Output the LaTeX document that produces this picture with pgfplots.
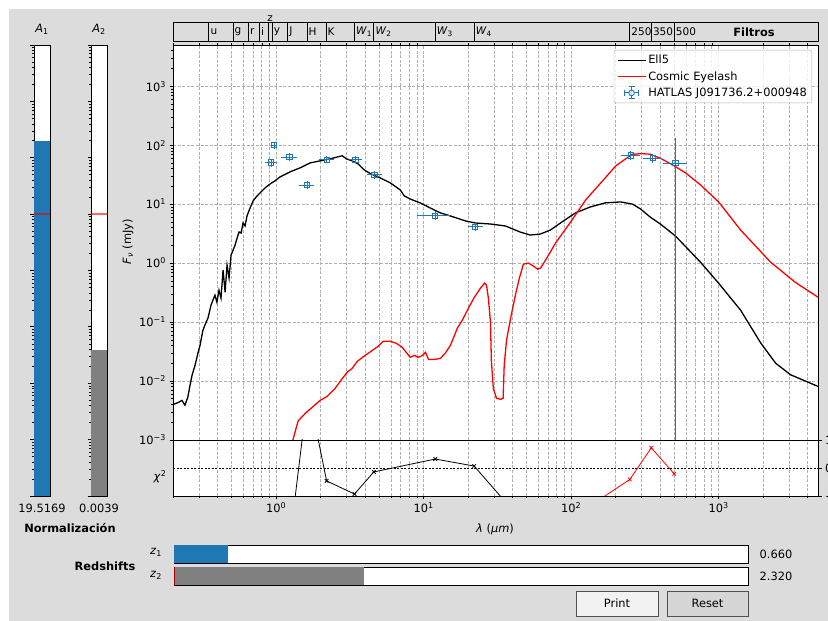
\documentclass[border=0pt]{standalone}
\usepackage{fontspec}
\setmainfont{DejaVu Sans}
\usepackage{pgfplots}
\pgfplotsset{compat=1.18}
\definecolor{c0}{RGB}{31,119,180}
\definecolor{bg}{RGB}{220,220,220}
\definecolor{gridc}{RGB}{176,176,176}
\definecolor{fgray}{RGB}{128,128,128}
\newcommand\fs{\fontsize{11.4pt}{13.5pt}\selectfont}
\pgfplotsset{
  mplbase/.style={scale only axis, anchor=south west,
    axis line style={line width=0.8pt},
    tick align=outside, major tick length=3.5pt, minor tick length=2pt,
    tick style={black, line width=0.8pt}, minor tick style={black, line width=0.6pt},
    tick label style={font=\fs},
    axis background/.style={fill=white}},
  mplgrid/.style={grid style={gridc, dash pattern=on 3pt off 1.6pt, line width=0.7pt},
    minor grid style={gridc, dash pattern=on 3pt off 1.6pt, line width=0.7pt}},
  sliderax/.style={scale only axis, anchor=south west, width=574pt, height=18pt,
    xmin=0, xmax=7, ymin=0, ymax=1, ticks=none, axis line style={line width=0.8pt},
    axis background/.style={fill=white}}
}
\tikzset{flab/.style={anchor=west, font=\fontsize{10.5pt}{12pt}\selectfont, inner sep=1.5pt}}
\begin{document}
\begin{tikzpicture}[x=1pt,y=1pt,font=\fs]
\useasboundingbox (0,0) rectangle (828,621);
\fill[white] (0,0) rectangle (828,621);
\fill[bg] (9,0) rectangle (828,612);

% ---------- main SED axis ----------
\begin{axis}[mplbase, mplgrid, at={(173pt,181pt)}, width=645pt, height=395pt,
  xmode=log, ymode=log, xmin=0.2, xmax=4720, ymin=1e-3, ymax=5000,
  xtick={1,10,100,1000},
  minor xtick={0.2,0.3,0.4,0.5,0.6,0.7,0.8,0.9,2,3,4,5,6,7,8,9,20,30,40,50,60,70,80,90,200,300,400,500,600,700,800,900,2000,3000,4000},
  xmajorgrids, xminorgrids, ymajorgrids,
  xticklabels={}, xmajorticks=false, xminorticks=false,
  ytick={1e-3,1e-2,1e-1,1,10,100,1000},
  yticklabels={10\textsuperscript{−3},10\textsuperscript{−2},10\textsuperscript{−1},10\textsuperscript{0},10\textsuperscript{1},10\textsuperscript{2},10\textsuperscript{3}},
  minor ytick={2e-3,3e-3,4e-3,5e-3,6e-3,7e-3,8e-3,9e-3,0.02,0.03,0.04,0.05,0.06,0.07,0.08,0.09,0.2,0.3,0.4,0.5,0.6,0.7,0.8,0.9,2,3,4,5,6,7,8,9,20,30,40,50,60,70,80,90,200,300,400,500,600,700,800,900,2000,3000,4000},
  ytick pos=left,
  legend cell align=left,
  legend style={at={(1,1)}, anchor=north east, xshift=-6pt, yshift=-5pt,
    draw=gridc, rounded corners=2pt, fill=white, fill opacity=0.8, text opacity=1,
    font=\fs, row sep=2.2pt, inner sep=3pt},
  clip marker paths=true]
\addplot[black, line width=1.3pt, legend image code/.code={\draw[black, line width=1.3pt] (0pt,0pt) -- (28pt,0pt);}] coordinates {
(0.200,0.0040)(0.216,0.0043)(0.230,0.0047)(0.241,0.0039)(0.252,0.0053)(0.261,0.0085)(0.269,0.0124)(0.282,0.0184)(0.296,0.0306)(0.305,0.0403)(0.319,0.0726)(0.335,0.099)(0.345,0.116)(0.362,0.193)(0.373,0.235)(0.385,0.286)(0.397,0.217)(0.410,0.347)(0.423,0.254)(0.437,0.760)(0.451,0.321)(0.465,0.925)(0.480,0.556)(0.495,1.37)(0.511,1.66)(0.527,2.02)(0.544,2.66)(0.561,3.37)(0.579,3.24)(0.597,4.79)(0.616,4.26)(0.635,6.3)(0.666,8.6)(0.698,11.3)(0.732,13.2)(0.779,15.5)(0.842,18.9)(0.911,22.0)(0.984,24.9)(1.064,29.0)(1.245,35.3)(1.456,41.3)(1.70,50.0)(1.99,54.2)(2.33,58.7)(2.63,63.6)(2.81,66.1)(2.99,58.7)(3.28,54.2)(3.60,48.0)(3.96,38.0)(4.35,33.0)(5.08,27.9)(5.95,22.9)(6.95,17.4)(7.39,13.8)(8.12,12.2)(9.49,10.5)(11.1,8.6)(13.0,7.1)(15.2,6.3)(19.2,5.2)(22.4,4.79)(28.5,4.60)(35.9,4.26)(45.1,3.37)(52.8,2.99)(61.8,3.11)(72.4,3.64)(84.7,4.79)(107,7.1)(135,8.96)(170,10.5)(217,10.9)(261,10.0)(295,8.3)(345,6.0)(403,4.6)(510,2.88)(753,1.04)(1000,0.457)(1410,0.159)(1936,0.0437)(2440,0.0200)(3070,0.0128)(4720,0.0081)};
\addlegendentry{Ell5}
\addplot[red, line width=1.3pt, legend image code/.code={\draw[red, line width=1.3pt] (0pt,0pt) -- (28pt,0pt);}] coordinates {
(1.25,0.0007)(1.41,0.0021)(1.57,0.0028)(1.76,0.0036)(1.99,0.0047)(2.22,0.0055)(2.51,0.0075)(2.81,0.011)(3.03,0.0141)(3.28,0.0164)(3.55,0.0216)(4.02,0.0272)(4.49,0.0331)(4.93,0.0389)(5.33,0.0472)(5.95,0.0472)(6.53,0.0436)(7.17,0.0373)(7.63,0.0306)(8.12,0.0252)(8.66,0.0272)(9.22,0.0252)(9.82,0.0272)(10.3,0.0306)(10.8,0.0232)(11.8,0.0232)(13.0,0.0242)(14.0,0.0295)(15.2,0.0403)(16.2,0.0595)(16.9,0.0784)(18.3,0.107)(20.1,0.171)(22.1,0.264)(24.3,0.376)(25.9,0.457)(26.7,0.422)(27.5,0.254)(28.4,0.099)(28.8,0.0226)(29.7,0.0075)(31.2,0.0051)(33.3,0.0049)(34.6,0.0051)(35.2,0.0184)(36.5,0.049)(38.9,0.116)(41.9,0.286)(44.6,0.556)(47.5,0.96)(51.4,1.0)(55.6,0.89)(59.3,0.79)(62.0,0.82)(67.1,1.12)(78.5,2.19)(99.3,4.98)(125.6,11.8)(158.9,22.9)(201,44.6)(233,58)(260,70)(300,72)(345,70)(403,60)(488,46.3)(597,33.9)(753,21.3)(1000,10.9)(1410,3.64)(2250,1.04)(3300,0.475)(4720,0.264)};
\addlegendentry{Cosmic Eyelash}
\addplot[c0, only marks, mark=square, mark size=2.6pt, mark options={c0, fill=white, line width=0.9pt},
  legend image code/.code={\draw[c0,line width=0.9pt] (7pt,0pt)--(21pt,0pt) (7pt,-3pt)--(7pt,3pt) (21pt,-3pt)--(21pt,3pt) (14pt,-6pt)--(14pt,6pt) (11pt,-6pt)--(17pt,-6pt) (11pt,6pt)--(17pt,6pt); \draw[c0, fill=white, line width=0.9pt] (11.4pt,-2.6pt) rectangle (16.6pt,2.6pt);},
  error bars/.cd, x dir=both, x explicit, y dir=both, y explicit,
  error bar style={draw=c0, color=c0, line width=1pt}, error mark options={draw=c0, color=c0, line width=1pt, mark size=3pt}]
  table[x=x, y=y, x error=ex, y error plus=eyp, y error minus=eym] {
x ex y eyp eym
0.925 0.04 50.8 2 2
0.97 0.005 100 2 2
1.23 0.09 63 2 2
1.62 0.11 21 1 1
2.21 0.15 57 2 2
3.45 0.2 57 2 2
4.65 0.3 31.4 1 1
12.0 2.5 6.4 0.3 0.3
22.4 1.6 4.1 0.2 0.2
253 25 66.8 3 3
357 35 60 3 3
510 70 49.6 68 49.5999
};
\addlegendentry{HATLAS J091736.2+000948}
\end{axis}

% ---------- chi2 axis ----------
\begin{axis}[mplbase, mplgrid, at={(173pt,125pt)}, width=645pt, height=56pt,
  xmode=log, xmin=0.2, xmax=4720, ymin=-1, ymax=1,
  xtick={1,10,100,1000},
  minor xtick={0.2,0.3,0.4,0.5,0.6,0.7,0.8,0.9,2,3,4,5,6,7,8,9,20,30,40,50,60,70,80,90,200,300,400,500,600,700,800,900,2000,3000,4000},
  xmajorgrids, xminorgrids,
  xticklabels={10\textsuperscript{0},10\textsuperscript{1},10\textsuperscript{2},10\textsuperscript{3}},
  xtick pos=bottom,
  ytick={-1,0,1}, yticklabels={−10\textsuperscript{0},0,10\textsuperscript{0}},
  ytick pos=right, yticklabel pos=right,
  clip marker paths=true]
\addplot[black, line width=0.7pt, dash pattern=on 2pt off 1.5pt] coordinates {(0.2,0)(4720,0)};
\addplot[black, line width=0.8pt, mark=x, mark size=2.5pt] coordinates {
(1.25,-2.43)(1.65,2.78)(2.2,-0.46)(3.4,-0.93)(4.6,-0.14)(12,0.32)(22,0.07)(250,-6.3)(350,-8)(500,-8)};
\addplot[red, line width=0.8pt, mark=x, mark size=2.5pt] coordinates {
(22,-4.1)(250,-0.41)(350,0.72)(500,-0.21)};
\end{axis}

% ---------- filter bar ----------
\begin{axis}[scale only axis, anchor=south west, at={(173pt,580pt)}, width=645pt, height=19pt,
  xmode=log, xmin=0.2, xmax=4720, ymin=0, ymax=1, ticks=none,
  axis line style={line width=0.8pt}, axis background/.style={fill=bg}, clip=false]
\addplot[black, line width=0.8pt, ycomb, no marks] coordinates {
(0.35,1)(0.51,1)(0.65,1)(0.77,1)(0.88,1)(0.94,1)(1.2,1)(1.62,1)(2.18,1)(3.4,1)(4.6,1)(12,1)(22,1)(250,1)(350,1)(500,1)};
\node[flab] at (axis cs:0.35,0.5) {u};
\node[flab] at (axis cs:0.51,0.5) {g};
\node[flab] at (axis cs:0.65,0.5) {r};
\node[flab] at (axis cs:0.77,0.5) {i};
\node[flab] at (axis cs:0.94,0.5) {y};
\node[flab] at (axis cs:1.2,0.5) {J};
\node[flab] at (axis cs:1.62,0.5) {H};
\node[flab] at (axis cs:2.18,0.5) {K};
\node[flab] at (axis cs:3.4,0.5) {\textit{W}\textsubscript{1}};
\node[flab] at (axis cs:4.6,0.5) {\textit{W}\textsubscript{2}};
\node[flab] at (axis cs:12,0.5) {\textit{W}\textsubscript{3}};
\node[flab] at (axis cs:22,0.5) {\textit{W}\textsubscript{4}};
\node[flab] at (axis cs:250,0.5) {250};
\node[flab] at (axis cs:350,0.5) {350};
\node[flab] at (axis cs:500,0.5) {500};
\node[anchor=south, font=\fontsize{10.5pt}{12pt}\selectfont, inner sep=0.5pt] at (axis cs:0.91,1) {z};
\end{axis}
\node[font=\fs\bfseries] at (754,589) {Filtros};

% ---------- normalisation bars ----------
\begin{axis}[mplbase, at={(34pt,125pt)}, width=16pt, height=451pt, xmin=0, xmax=1,
    ymode=log, ymin=1e-5, ymax=1e3, xtick=\empty,
    ytick={1e-5,1e-4,1e-3,1e-2,1e-1,1,10,100,1000}, yticklabels={}, ytick pos=left,
    minor ytick={2e-5,3e-5,4e-5,5e-5,6e-5,7e-5,8e-5,9e-5,2e-4,3e-4,4e-4,5e-4,6e-4,7e-4,8e-4,9e-4,2e-3,3e-3,4e-3,5e-3,6e-3,7e-3,8e-3,9e-3,0.02,0.03,0.04,0.05,0.06,0.07,0.08,0.09,0.2,0.3,0.4,0.5,0.6,0.7,0.8,0.9,2,3,4,5,6,7,8,9,20,30,40,50,60,70,80,90,200,300,400,500,600,700,800,900}]
\addplot[fill=c0, draw=none] coordinates {(0,1e-5)(0,19.5169)(1,19.5169)(1,1e-5)} -- cycle;
\addplot[red, opacity=0.6, line width=1.5pt] coordinates {(0,1)(1,1)};
\end{axis}
\begin{axis}[mplbase, at={(91pt,125pt)}, width=16pt, height=451pt, xmin=0, xmax=1,
    ymode=log, ymin=1e-5, ymax=1e3, xtick=\empty,
    ytick={1e-5,1e-4,1e-3,1e-2,1e-1,1,10,100,1000}, yticklabels={}, ytick pos=left,
    minor ytick={2e-5,3e-5,4e-5,5e-5,6e-5,7e-5,8e-5,9e-5,2e-4,3e-4,4e-4,5e-4,6e-4,7e-4,8e-4,9e-4,2e-3,3e-3,4e-3,5e-3,6e-3,7e-3,8e-3,9e-3,0.02,0.03,0.04,0.05,0.06,0.07,0.08,0.09,0.2,0.3,0.4,0.5,0.6,0.7,0.8,0.9,2,3,4,5,6,7,8,9,20,30,40,50,60,70,80,90,200,300,400,500,600,700,800,900}]
\addplot[fill=fgray, draw=none] coordinates {(0,1e-5)(0,0.0039)(1,0.0039)(1,1e-5)} -- cycle;
\addplot[red, opacity=0.6, line width=1.5pt] coordinates {(0,1)(1,1)};
\end{axis}
\node at (42,592) {\textit{A}\textsubscript{1}};
\node at (99,592) {\textit{A}\textsubscript{2}};
\node at (42,113) {19.5169};
\node at (99,113) {0.0039};
\node[font=\fs\bfseries] at (70,93) {Normalización};

% ---------- labels ----------
\node[rotate=90] at (128,379) {\textit{F}\textsubscript{\textit{ν}} (mJy)};
\node at (160,144) {\textit{χ}\textsuperscript{2}};
\node at (495,92) {\textit{λ} (\textit{μm})};

% ---------- redshift sliders ----------
\begin{axis}[sliderax, at={(174pt,58pt)}]
\addplot[fill=c0, draw=none] coordinates {(0,0)(0,1)(0.660,1)(0.660,0)} -- cycle;
\end{axis}
\begin{axis}[sliderax, at={(174pt,36pt)}]
\addplot[fill=fgray, draw=none] coordinates {(0,0)(0,1)(2.320,1)(2.320,0)} -- cycle;
\addplot[red!70!black, line width=0.8pt] coordinates {(0.01,0)(0.01,1)};
\end{axis}
\node[font=\fs\bfseries] at (105,55) {Redshifts};
\node at (156,69) {\textit{z}\textsubscript{1}};
\node at (156,46) {\textit{z}\textsubscript{2}};
\node at (776,67) {0.660};
\node at (776,45) {2.320};

% ---------- buttons ----------
\draw[fill={rgb,255:red,242;green,242;blue,242}, draw={rgb,255:red,80;green,80;blue,80}, line width=0.8pt] (576,5) rectangle (658,30);
\node at (617,17.5) {Print};
\draw[fill={rgb,255:red,214;green,214;blue,214}, draw={rgb,255:red,80;green,80;blue,80}, line width=0.8pt] (667,5) rectangle (748,30);
\node at (707.5,17.5) {Reset};
\end{tikzpicture}
\end{document}
